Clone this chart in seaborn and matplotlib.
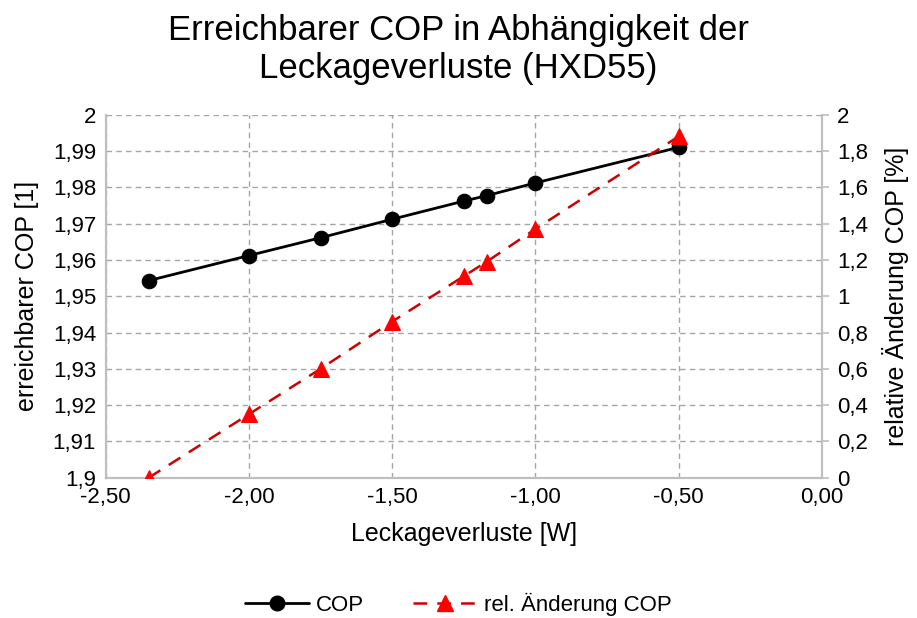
import matplotlib
matplotlib.use("Agg")
import matplotlib.pyplot as plt
from matplotlib.ticker import FuncFormatter, MultipleLocator
from matplotlib.lines import Line2D
import seaborn as sns
import pandas as pd

# Leakage losses [W] and the resulting COP values
leckage = [-2.35, -2.00, -1.75, -1.50, -1.25, -1.17, -1.00, -0.50]
cop = [1.9543, 1.9612, 1.9661, 1.9712, 1.9762, 1.9777, 1.9812, 1.9910]
rel_aenderung = [0.0, 0.35, 0.60, 0.86, 1.11, 1.19, 1.37, 1.88]

df = pd.DataFrame({"Leckage": leckage, "COP": cop, "rel": rel_aenderung})

sns.set_style("white")
plt.rcParams["font.family"] = ["Liberation Sans", "DejaVu Sans"]
plt.rcParams.update({"text.color": "black", "axes.labelcolor": "black",
                     "xtick.color": "black", "ytick.color": "black"})

fig = plt.figure(figsize=(9.17, 6.18), dpi=100)
ax = fig.add_axes([0.1153, 0.227, 0.7808, 0.5874])
ax2 = ax.twinx()

grid_col = "#a6a6a6"
spine_col = "#bfbfbf"

sns.lineplot(data=df, x="Leckage", y="COP", ax=ax, color="black", lw=2,
             marker="o", markersize=10.5, markeredgecolor="black", zorder=3)
sns.lineplot(data=df, x="Leckage", y="rel", ax=ax2, color="#d00000", lw=1.8,
             linestyle=(0, (5.5, 4)), marker="^", markersize=12,
             markerfacecolor="#ff0000", markeredgecolor="#ff0000", zorder=3)

ax.set_xlim(-2.5, 0.0)
ax.set_ylim(1.9, 2.0)
ax2.set_ylim(0, 2)
ax.xaxis.set_major_locator(MultipleLocator(0.5))
ax.yaxis.set_major_locator(MultipleLocator(0.01))
ax2.yaxis.set_major_locator(MultipleLocator(0.2))


def comma_general(v, pos):
    s = f"{v:.2f}".rstrip("0").rstrip(".")
    return s.replace(".", ",")


def comma_general_r(v, pos):
    s = f"{v:.1f}".rstrip("0").rstrip(".")
    return s.replace(".", ",")


ax.xaxis.set_major_formatter(FuncFormatter(lambda v, p: f"{v:.2f}".replace(".", ",")))
ax.yaxis.set_major_formatter(FuncFormatter(comma_general))
ax2.yaxis.set_major_formatter(FuncFormatter(comma_general_r))

ax.grid(True, color=grid_col, linestyle=(0, (4, 3)), lw=1)
ax.set_axisbelow(True)
ax2.grid(False)

for a in (ax, ax2):
    a.spines["top"].set_visible(False)
    for s in ("left", "bottom", "right"):
        a.spines[s].set_color(spine_col)
        a.spines[s].set_linewidth(1.5)

ax.tick_params(axis="both", length=0, labelsize=16, pad=7)
ax2.tick_params(axis="y", length=5, width=1.2, color=spine_col, labelsize=16, pad=6,
                direction="out", labelcolor="black")

ax.set_xlabel("Leckageverluste [W]", fontsize=18, labelpad=10)
ax.set_ylabel("erreichbarer COP [1]", fontsize=18, labelpad=10)
ax2.set_ylabel("relative Änderung COP [%]", fontsize=18, labelpad=10)

fig.suptitle("Erreichbarer COP in Abhängigkeit der\nLeckageverluste (HXD55)",
             fontsize=25, y=0.978, linespacing=1.2, color="black")

handles = [
    Line2D([], [], color="black", lw=2, marker="o", markersize=10.5),
    Line2D([], [], color="#d00000", lw=1.8, linestyle=(0, (5.5, 4)), marker="^",
           markersize=12, markerfacecolor="#ff0000", markeredgecolor="#ff0000"),
]
if ax2.get_legend() is not None:
    ax2.get_legend().remove()
if ax.get_legend() is not None:
    ax.get_legend().remove()
fig.legend(handles, ["COP", "rel. Änderung COP"], loc="center", bbox_to_anchor=(0.5, 0.022),
           ncol=2, frameon=False, fontsize=16, handlelength=2.9, columnspacing=2.2,
           handletextpad=0.3)

fig.savefig("out.png", dpi=100)
